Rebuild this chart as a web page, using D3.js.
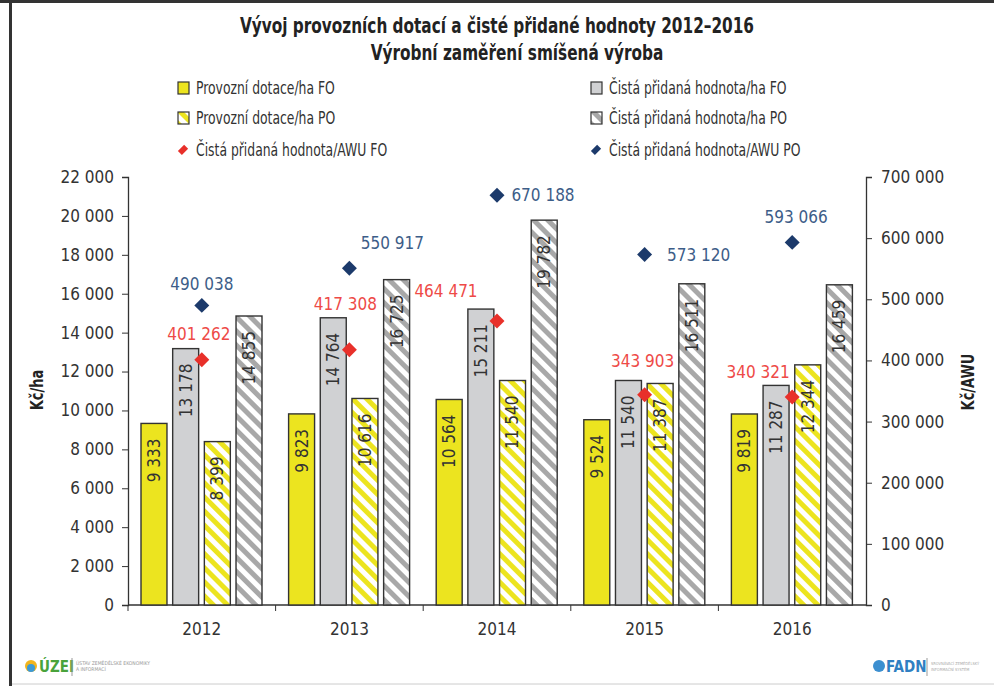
<!DOCTYPE html>
<html>
<head>
<meta charset="utf-8">
<script src="https://cdn.jsdelivr.net/npm/d3@7"></script>
<style>
  body { margin: 0; background: #fff; }
  text { font-family: "DejaVu Sans Condensed", "Noto Sans", sans-serif; }
</style>
</head>
<body>
<div id="chart"></div>
<script>
const years = ['2012', '2013', '2014', '2015', '2016']
const seriesNames = ['Provozní dotace/ha FO', 'Čistá přidaná hodnota/ha FO', 'Provozní dotace/ha PO', 'Čistá přidaná hodnota/ha PO']
const dotaceFO = [9333, 9823, 10564, 9524, 9819]
const cphFO = [13178, 14764, 15211, 11540, 11287]
const dotacePO = [8399, 10616, 11540, 11387, 12344]
const cphPO = [14855, 16725, 19782, 16511, 16459]
const awuFO = [401262, 417308, 464471, 343903, 340321]
const awuPO = [490038, 550917, 670188, 573120, 593066]
const leftTicks = d3.range(0, 22001, 2000)
const rightTicks = d3.range(0, 700001, 100000)

// where the diamond labels sit relative to their marker (layout only)
const awuFOLabelOffset = [[-3, -26], [-4, -46], [-51, -30], [-2, -34], [-34, -25]]
const awuPOLabelOffset = [[0, -21], [43, -25], [46, 0], [54, 0], [4, -25]]

const W = 994, H = 686
const fmt = d3.formatLocale({ decimal: ',', thousands: ' ', grouping: [3], currency: ['', ''] }).format(',d')
// the original uses a narrow font, squeeze the condensed one a bit
const SQ = 0.81

const svg = d3.select('#chart').append('svg')
    .attr('width', W)
    .attr('height', H)

const defs = svg.append('defs')
function stripes(id, color) {
    const p = defs.append('pattern')
        .attr('id', id)
        .attr('patternUnits', 'userSpaceOnUse')
        .attr('width', 10).attr('height', 10)
        .attr('patternTransform', 'rotate(-45)')
    p.append('rect').attr('width', 10).attr('height', 10).attr('fill', '#fff')
    p.append('rect').attr('width', 5).attr('height', 10).attr('fill', color)
}
stripes('hatchYellow', '#ece41f')
stripes('hatchGrey', '#a8a8a8')

const fills = ['#ece41f', '#d0d1d3', 'url(#hatchYellow)', 'url(#hatchGrey)']
const values = [dotaceFO, cphFO, dotacePO, cphPO]

// frame
svg.append('rect').attr('x', 0).attr('y', 0).attr('width', W).attr('height', 3).attr('fill', '#333')
svg.append('rect').attr('x', 9).attr('y', 0).attr('width', 3).attr('height', H).attr('fill', '#333')
svg.append('line').attr('x1', 12).attr('x2', W).attr('y1', 684).attr('y2', 684).attr('stroke', '#ccc')

// titles
svg.append('text').attr('transform', `translate(497,33) scale(${SQ},1)`).attr('text-anchor', 'middle')
    .attr('font-size', 21).attr('font-weight', 'bold').attr('fill', '#222')
    .text('Vývoj provozních dotací a čisté přidané hodnoty 2012–2016')
svg.append('text').attr('transform', `translate(517,60) scale(${SQ},1)`).attr('text-anchor', 'middle')
    .attr('font-size', 21).attr('font-weight', 'bold').attr('fill', '#222')
    .text('Výrobní zaměření smíšená výroba')

// scales
const x0 = d3.scaleBand().domain(years).range([128, 866])
const x1 = d3.scaleBand().domain(d3.range(4)).range([13, 134]).paddingInner(0.18)
const yL = d3.scaleLinear().domain([0, 22000]).range([605, 177])
const yR = d3.scaleLinear().domain([0, 700000]).range([605, 177])

// axes
const axisCol = '#333'
const gL = svg.append('g').attr('transform', 'translate(128,0)')
    .call(d3.axisLeft(yL).tickValues(leftTicks).tickFormat(fmt).tickSize(6).tickPadding(8))
const gR = svg.append('g').attr('transform', 'translate(866,0)')
    .call(d3.axisRight(yR).tickValues(rightTicks).tickFormat(fmt).tickSize(6).tickPadding(9))
const gX = svg.append('g').attr('transform', 'translate(0,605)')
    .call(d3.axisBottom(x0).tickSize(0).tickPadding(18))
gX.selectAll('.tick').append('line')
    .attr('x1', -x0.bandwidth() / 2).attr('x2', -x0.bandwidth() / 2)
    .attr('y1', 0).attr('y2', 6).attr('stroke', axisCol)
gX.select('.domain').remove()
gX.append('line').attr('x1', 128).attr('x2', 866).attr('stroke', axisCol).attr('stroke-width', 1.3)
for (const g of [gL, gR, gX]) {
    g.selectAll('.domain').attr('stroke', axisCol).attr('stroke-width', 1.3)
    g.selectAll('.tick line').attr('stroke', axisCol)
    g.selectAll('.tick text').attr('font-size', 17).attr('fill', '#333')
        .attr('font-family', '"DejaVu Sans Condensed", sans-serif')
}

svg.append('text').attr('transform', `translate(43,390) rotate(-90) scale(0.85,1)`)
    .attr('text-anchor', 'middle').attr('font-size', 17).attr('font-weight', 'bold').attr('fill', '#222')
    .text('Kč/ha')
svg.append('text').attr('transform', `translate(974,382) rotate(-90) scale(0.85,1)`)
    .attr('text-anchor', 'middle').attr('font-size', 17).attr('font-weight', 'bold').attr('fill', '#222')
    .text('Kč/AWU')

// bars
const groups = svg.append('g').selectAll('g')
    .data(years)
    .join('g')
    .attr('transform', d => `translate(${x0(d)},0)`)

groups.selectAll('rect')
    .data((d, i) => values.map((v, s) => ({ s, v: v[i] })))
    .join('rect')
    .attr('x', d => x1(d.s))
    .attr('y', d => yL(d.v))
    .attr('width', x1.bandwidth())
    .attr('height', d => yL(0) - yL(d.v))
    .attr('fill', d => fills[d.s])
    .attr('stroke', '#333')
    .attr('stroke-width', 1.4)

groups.selectAll('text.val')
    .data((d, i) => values.map((v, s) => ({ s, v: v[i] })))
    .join('text')
    .attr('class', 'val')
    .attr('transform', d => `translate(${x1(d.s) + x1.bandwidth() / 2},${yL(d.v) + 15}) rotate(-90)`)
    .attr('text-anchor', 'end')
    .attr('dy', '0.35em')
    .attr('font-size', 17)
    .attr('fill', '#333')
    .text(d => fmt(d.v))

// diamonds
const diamond = d3.symbol().type(d3.symbolSquare).size(112)
function markers(data, offsets, color, labelColor) {
    const g = svg.append('g')
    g.selectAll('path')
        .data(data)
        .join('path')
        .attr('d', diamond)
        .attr('transform', (d, i) => `translate(${x0(years[i]) + x0.bandwidth() / 2},${yR(d)}) rotate(45)`)
        .attr('fill', color)
    g.selectAll('text')
        .data(data)
        .join('text')
        .attr('x', (d, i) => x0(years[i]) + x0.bandwidth() / 2 + offsets[i][0])
        .attr('y', (d, i) => yR(d) + offsets[i][1])
        .attr('dy', '0.35em')
        .attr('text-anchor', 'middle')
        .attr('font-size', 17)
        .attr('fill', labelColor)
        .text(d => fmt(d))
}
markers(awuFO, awuFOLabelOffset, '#e8302a', '#ee4a47')
markers(awuPO, awuPOLabelOffset, '#1c3a6b', '#3d5d88')

// legend
const legendItems = [
    { name: seriesNames[0], fill: fills[0], type: 'rect', x: 183, y: 88 },
    { name: seriesNames[1], fill: fills[1], type: 'rect', x: 596, y: 88 },
    { name: seriesNames[2], fill: fills[2], type: 'rect', x: 183, y: 118 },
    { name: seriesNames[3], fill: fills[3], type: 'rect', x: 596, y: 118 },
    { name: 'Čistá přidaná hodnota/AWU FO', fill: '#e8302a', type: 'dia', x: 183, y: 150 },
    { name: 'Čistá přidaná hodnota/AWU PO', fill: '#1c3a6b', type: 'dia', x: 596, y: 150 }
]
const leg = svg.append('g').selectAll('g').data(legendItems).join('g')
    .attr('transform', d => `translate(${d.x},${d.y})`)
leg.filter(d => d.type === 'rect').append('rect')
    .attr('x', -5).attr('y', -6).attr('width', 11).attr('height', 12)
    .attr('fill', d => d.fill).attr('stroke', '#333').attr('stroke-width', 1.2)
leg.filter(d => d.type === 'dia').append('path')
    .attr('d', d3.symbol().type(d3.symbolSquare).size(50))
    .attr('transform', 'rotate(45) scale(0.8,1.25)')
    .attr('fill', d => d.fill)
leg.append('text')
    .attr('transform', `translate(13,0) scale(${SQ},1)`)
    .attr('dy', '0.35em')
    .attr('font-size', 17).attr('fill', '#333')
    .text(d => d.name)

// footer logos
const foot = svg.append('g')
foot.append('circle').attr('cx', 31).attr('cy', 666).attr('r', 6).attr('fill', '#f2b51e')
foot.append('circle').attr('cx', 31).attr('cy', 668).attr('r', 4).attr('fill', '#3c9ad6')
foot.append('text').attr('x', 39).attr('y', 672).attr('font-size', 15).attr('font-weight', 'bold')
    .attr('fill', '#49a33b').text('ÚZEI')
foot.append('line').attr('x1', 72).attr('x2', 72).attr('y1', 658).attr('y2', 676).attr('stroke', '#999')
foot.append('text').attr('x', 76).attr('y', 665).attr('font-size', 5).attr('fill', '#999').text('ÚSTAV ZEMĚDĚLSKÉ EKONOMIKY')
foot.append('text').attr('x', 76).attr('y', 671).attr('font-size', 5).attr('fill', '#999').text('A INFORMACÍ')
foot.append('circle').attr('cx', 879).attr('cy', 666).attr('r', 6).attr('fill', '#3c8fd0')
foot.append('text').attr('x', 886).attr('y', 672).attr('font-size', 15).attr('font-weight', 'bold')
    .attr('fill', '#2f7fc2').text('FADN')
foot.append('line').attr('x1', 927).attr('x2', 927).attr('y1', 658).attr('y2', 676).attr('stroke', '#999')
foot.append('text').attr('x', 931).attr('y', 665).attr('font-size', 4).attr('fill', '#aaa').text('SROVNÁVACÍ ZEMĚDĚLSKÝ')
foot.append('text').attr('x', 931).attr('y', 671).attr('font-size', 4).attr('fill', '#aaa').text('INFORMAČNÍ SYSTÉM')
</script>
</body>
</html>
